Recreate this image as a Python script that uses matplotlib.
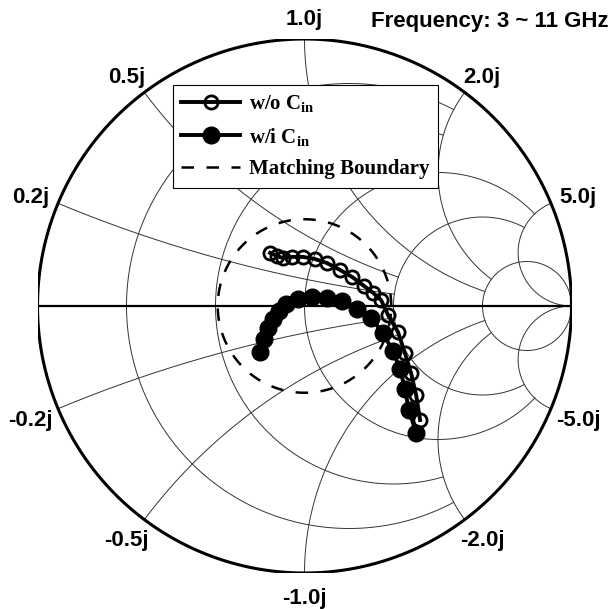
import numpy as np
import matplotlib
matplotlib.use('Agg')
import matplotlib.pyplot as plt

plt.rcParams['mathtext.fontset'] = 'custom'
plt.rcParams['mathtext.rm'] = 'Liberation Serif:bold'
plt.rcParams['mathtext.bf'] = 'Liberation Serif:bold'
plt.rcParams['mathtext.it'] = 'Liberation Serif:bold:italic'

# reflection coefficient, 3 ~ 11 GHz
wo_re = [-0.129, -0.103, -0.081, -0.047, -0.006, 0.039, 0.084, 0.133, 0.178,
         0.223, 0.257, 0.287, 0.313, 0.350, 0.376, 0.399, 0.418, 0.433]
wo_im = [0.199, 0.187, 0.180, 0.184, 0.184, 0.176, 0.161, 0.135, 0.109,
         0.075, 0.049, 0.022, -0.034, -0.097, -0.176, -0.251, -0.333, -0.427]
wi_re = [-0.167, -0.152, -0.137, -0.118, -0.096, -0.069, -0.024, 0.028, 0.084,
         0.140, 0.197, 0.249, 0.294, 0.331, 0.358, 0.376, 0.391, 0.418]
wi_im = [-0.172, -0.124, -0.082, -0.049, -0.019, 0.007, 0.026, 0.034, 0.030,
         0.019, -0.011, -0.045, -0.101, -0.169, -0.236, -0.311, -0.390, -0.476]
match_radius = 0.325

# smith grid values and how far each line is drawn (None = full)
r_grid = [0.2, 0.5, 1, 2, 5]
r_limit = [2, 2, 5, 5, None]
x_grid = [0.2, 0.5, 1, 2, 5]
x_limit = [2, 2, 5, 5, None]


def z2g(z):
    return (z - 1) / (z + 1)


fig = plt.figure(figsize=(6.1, 6.09), dpi=100)
ax = fig.add_axes([37.5 / 610, 36 / 609, 534 / 610, 534 / 609])
ax.set_xlim(-1, 1)
ax.set_ylim(-1, 1)
ax.axis('off')

gridkw = dict(color='#333333', lw=0.7, zorder=1)
big = np.geomspace(1e-4, 1e4, 600)
for r, lim in zip(r_grid, r_limit):
    if lim is None:
        xs = np.concatenate([-big[::-1], [0], big])
    else:
        xs = np.linspace(-lim, lim, 600)
    g = z2g(r + 1j * xs)
    ax.plot(g.real, g.imag, **gridkw)
for xv, lim in zip(x_grid, x_limit):
    if lim is None:
        rs = np.concatenate([[0], big])
    else:
        rs = np.linspace(0, lim, 600)
    for s in (1, -1):
        g = z2g(rs + 1j * s * xv)
        ax.plot(g.real, g.imag, **gridkw)

t = np.linspace(0, 2 * np.pi, 720)
ax.plot(np.cos(t), np.sin(t), color='black', lw=2.2, zorder=2)
ax.plot([-1, 1], [0, 0], color='black', lw=1.6, zorder=2)

# reactance labels round the rim
for xv in x_grid:
    for s in (1, -1):
        g = z2g(1j * s * xv)
        lab = ('%.1fj' % xv) if s > 0 else ('-%.1fj' % xv)
        ax.text(1.11 * g.real, 1.085 * g.imag - 0.012, lab, ha='center', va='center',
                fontsize=16, fontweight='bold', family='Liberation Sans',
                clip_on=False)

l3, = ax.plot(match_radius * np.cos(t), match_radius * np.sin(t), color='black',
              lw=1.8, dashes=(5, 5), zorder=3, label='Matching Boundary')
l1, = ax.plot(wo_re, wo_im, color='black', lw=2.8, marker='o', ms=9.5,
              mfc='none', mec='black', mew=2.0, zorder=4, label='w/o C$_\\mathrm{in}$')
l2, = ax.plot(wi_re, wi_im, color='black', lw=2.8, marker='o', ms=12,
              mfc='black', mec='black', zorder=5, label='w/i C$_\\mathrm{in}$')

leg = fig.legend([l1, l2, l3], [l1.get_label(), l2.get_label(), l3.get_label()],
                 loc='upper left', bbox_to_anchor=(173 / 610, 1 - 85 / 609),
                 bbox_transform=fig.transFigure, borderaxespad=0,
                 prop={'family': 'Liberation Serif', 'weight': 'bold', 'size': 15},
                 frameon=True, fancybox=False, framealpha=1, edgecolor='black',
                 handlelength=2.8, handletextpad=0.45, borderpad=0.4,
                 labelspacing=0.55)
leg.get_frame().set_linewidth(0.8)

fig.text(0.997, 1 - 22 / 609, 'Frequency: 3 ~ 11 GHz', ha='right', va='center',
         fontsize=16, fontweight='bold', family='Liberation Sans')

fig.savefig('out.png', dpi=100)
